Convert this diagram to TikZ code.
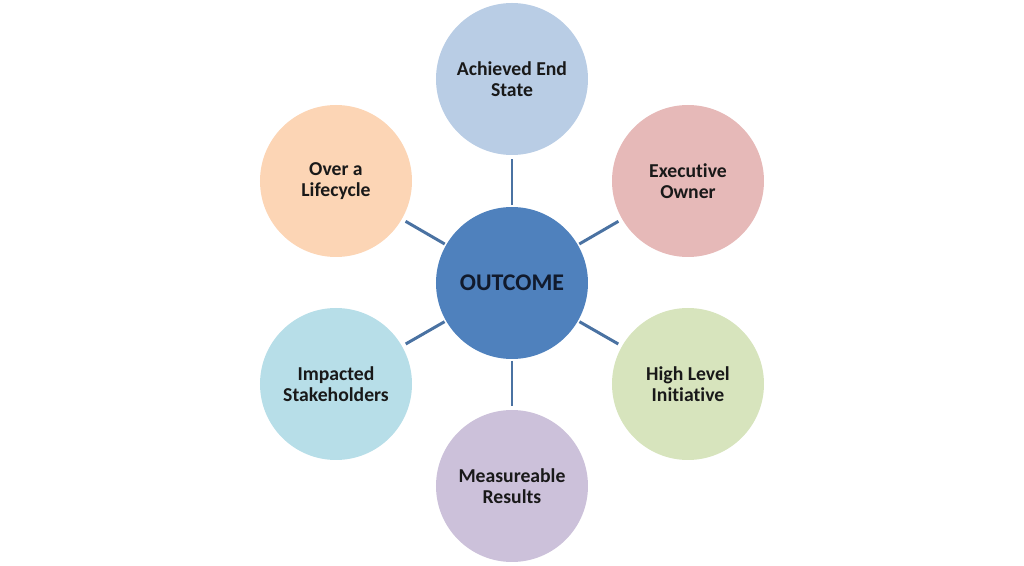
\documentclass[tikz,border=0pt]{standalone}
\usepackage{fontspec}
\setmainfont[Ligatures={NoCommon}]{Carlito}
\usepackage{tikz}

\definecolor{hubblue}{HTML}{4F81BD}
\definecolor{spokeblue}{HTML}{4A72A2}
\definecolor{endblue}{HTML}{B9CDE5}
\definecolor{ownerred}{HTML}{E6B9B8}
\definecolor{initgreen}{HTML}{D7E4BD}
\definecolor{resultlilac}{HTML}{CCC1DA}
\definecolor{stakecyan}{HTML}{B7DEE8}
\definecolor{cycleorange}{HTML}{FCD5B5}
\definecolor{hubtext}{HTML}{111A2C}

\begin{document}
\begin{tikzpicture}[every node/.style={circle, minimum size=3.04cm, inner sep=0pt, outer sep=0pt, align=center, font=\bfseries\fontsize{11.2}{12}\selectfont, text=black!90},
spoke/.style={draw=spokeblue, line width=1.7pt, shorten <=1pt, shorten >=2.5pt}]
\useasboundingbox (-10.24,-5.66) rectangle (10.24,5.66);

\node[fill=hubblue, font=\bfseries\fontsize{13.6}{15}\selectfont, text=hubtext] (hub) at (0,0) {OUTCOME};

\node[fill=endblue] (endstate) at (0,4.08) {Achieved End\\State};
\node[fill=ownerred] (owner) at (3.52,2.04) {Executive\\Owner};
\node[fill=initgreen] (initiative) at (3.52,-2.02) {High Level\\Initiative};
\node[fill=resultlilac] (results) at (0,-4.06) {Measureable\\Results};
\node[fill=stakecyan] (stake) at (-3.52,-2.02) {Impacted\\Stakeholders};
\node[fill=cycleorange] (cycle) at (-3.52,2.04) {Over a\\Lifecycle};

\draw[spoke] (hub) -- (endstate);
\draw[spoke] (hub) -- (owner);
\draw[spoke] (hub) -- (initiative);
\draw[spoke] (hub) -- (results);
\draw[spoke] (hub) -- (stake);
\draw[spoke] (hub) -- (cycle);
\end{tikzpicture}
\end{document}
